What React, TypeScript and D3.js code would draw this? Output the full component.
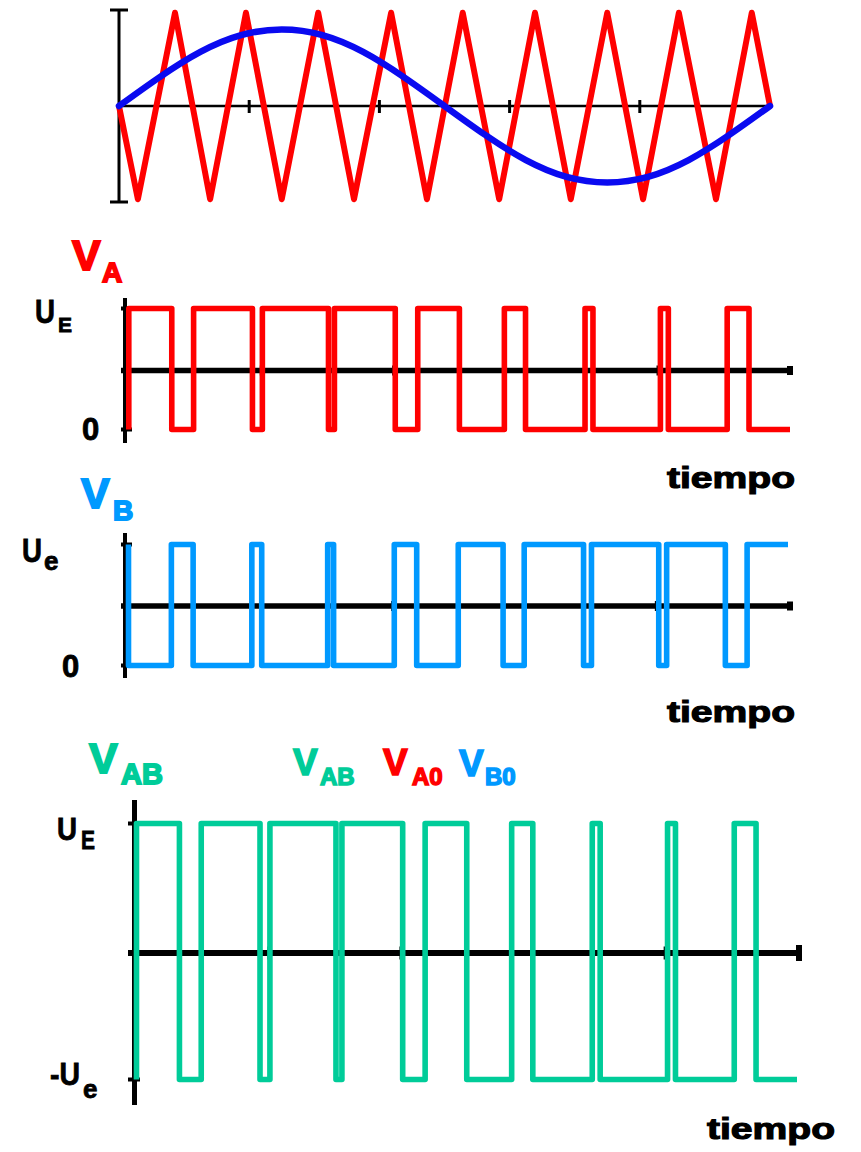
import React from "react";
import * as d3 from "d3";

// ---- Data --------------------------------------------------------------
// Time is expressed as a fraction of one period of the modulating sine.

// Triangular carrier vertices (9 carrier periods per sine period)
const carrierTimes = [0, 0.029, 0.086, 0.14, 0.195, 0.25, 0.306, 0.361, 0.418, 0.473, 0.528, 0.584, 0.639, 0.694, 0.75, 0.805, 0.86, 0.917, 0.972, 1];
const carrierValues = [0, -1, 1, -1, 1, -1, 1, -1, 1, -1, 1, -1, 1, -1, 1, -1, 1, -1, 1, 0];

// Modulating sine, sampled every 1/16 of a period
const sineTimes = [0, 0.0625, 0.125, 0.1875, 0.25, 0.3125, 0.375, 0.4375, 0.5, 0.5625, 0.625, 0.6875, 0.75, 0.8125, 0.875, 0.9375, 1];
const sineValues = [0, 0.31, 0.58, 0.76, 0.82, 0.76, 0.58, 0.31, 0, -0.31, -0.58, -0.76, -0.82, -0.76, -0.58, -0.31, 0];

// Switching instants of leg A (leg B is complementary)
const switchTimes = [0.065, 0.098, 0.187, 0.202, 0.302, 0.311, 0.403, 0.437, 0.5, 0.568, 0.6, 0.69, 0.702, 0.804, 0.816, 0.905, 0.938];
const initialStateA = 0;

// Minor time ticks
const timeTicks = [0.2, 0.4, 0.6, 0.8];

// ---- Helpers -----------------------------------------------------------
const FONT = "'Liberation Sans', Arial, Helvetica, sans-serif";
const RED = "#ff0000";
const BLUE = "#0a0af0";
const LBLUE = "#0099ff";
const GREEN = "#00cc99";

type Pt = [number, number];

function stepSeries(map: (s: number) => number): Pt[] {
  let s = initialStateA;
  const pts: Pt[] = [[0, map(s)]];
  s = 1 - s;
  pts.push([0, map(s)]);
  for (const t of switchTimes) {
    pts.push([t, map(s)]);
    s = 1 - s;
    pts.push([t, map(s)]);
  }
  pts.push([1, map(s)]);
  return pts;
}

const seriesA = stepSeries((s) => s);
const seriesB = stepSeries((s) => 1 - s);
const seriesAB = stepSeries((s) => s - (1 - s));

function Label({ x, y, size, color, text, sub, subSize, subDx, subDy, stroke = 1.2, len, subLen }: any) {
  return (
    <g fill={color} stroke={color} strokeWidth={stroke} fontFamily={FONT} fontWeight={700}>
      <text x={x} y={y} fontSize={size} textLength={len} lengthAdjust={len ? "spacingAndGlyphs" : undefined}>{text}</text>
      {sub && (
        <text x={x + subDx} y={y + subDy} fontSize={subSize} textLength={subLen} lengthAdjust={subLen ? "spacingAndGlyphs" : undefined}>{sub}</text>
      )}
    </g>
  );
}

function Tiempo({ x, y }: { x: number; y: number }) {
  return (
    <text x={x} y={y} fontFamily={FONT} fontWeight={700} fontSize={29} fill="#000" stroke="#000" strokeWidth={1.1}
      textLength={128} lengthAdjust="spacingAndGlyphs">tiempo</text>
  );
}

type PanelProps = {
  data: Pt[];
  color: string;
  xRange: [number, number];
  yDomain: [number, number];
  yRange: [number, number];
  axisX: number;
  axisW: number;
  axisTop: number;
  axisBottom: number;
  levels: number[];
  midY: number;
  midW: number;
  midEnd: number;
  tickLeft: number;
  tickRight: number;
  endTickH: number;
  minorH: number;
};

function Panel(p: PanelProps) {
  const x = d3.scaleLinear().domain([0, 1]).range(p.xRange);
  const y = d3.scaleLinear().domain(p.yDomain).range(p.yRange);
  const line = d3.line<Pt>().x((d) => x(d[0])).y((d) => y(d[1]));
  return (
    <g>
      <line x1={p.axisX} x2={p.axisX} y1={p.axisTop} y2={p.axisBottom} stroke="#000" strokeWidth={p.axisW} />
      {p.levels.map((v) => (
        <line key={v} x1={p.tickLeft} x2={p.tickRight} y1={y(v)} y2={y(v)} stroke="#000" strokeWidth={4} />
      ))}
      <line x1={p.tickLeft} x2={p.midEnd} y1={p.midY} y2={p.midY} stroke="#000" strokeWidth={p.midW} />
      <line x1={p.midEnd - 3} x2={p.midEnd - 3} y1={p.midY - p.endTickH / 2} y2={p.midY + p.endTickH / 2} stroke="#000" strokeWidth={6} />
      {timeTicks.map((t) => (
        <line key={t} x1={x(t)} x2={x(t)} y1={p.midY - p.minorH / 2} y2={p.midY + p.minorH / 2} stroke="#000" strokeWidth={2.5} />
      ))}
      <path d={line(p.data) || ""} fill="none" stroke={p.color} strokeWidth={5.6} strokeLinejoin="round" strokeLinecap="butt" />
    </g>
  );
}

export default function App() {
  const W = 861;
  const H = 1152;

  // Top panel: carrier vs. modulating wave
  const xTop = d3.scaleLinear().domain([0, 1]).range([119, 770]);
  const yTop = d3.scaleLinear().domain([-1.03, 1.03]).range([202, 10]);
  const carrierPts: Pt[] = carrierTimes.map((t, i) => [t, carrierValues[i]]);
  const sinePts: Pt[] = sineTimes.map((t, i) => [t, sineValues[i]]);
  const topLine = d3.line<Pt>().x((d) => xTop(d[0])).y((d) => yTop(d[1]));
  const sineLine = d3.line<Pt>().x((d) => xTop(d[0])).y((d) => yTop(d[1])).curve(d3.curveNatural);

  return (
    <svg width={W} height={H} viewBox={`0 0 ${W} ${H}`} style={{ position: "absolute", left: 0, top: 0, background: "#fff" }}>
      <rect width={W} height={H} fill="#fff" />

      {/* Carrier / reference */}
      <g>
        <line x1={xTop(0)} x2={xTop(0)} y1={yTop(-1.03)} y2={yTop(1.03)} stroke="#000" strokeWidth={3} />
        <line x1={110} x2={128} y1={yTop(1.03)} y2={yTop(1.03)} stroke="#000" strokeWidth={3} />
        <line x1={110} x2={128} y1={yTop(-1.03)} y2={yTop(-1.03)} stroke="#000" strokeWidth={3} />
        <line x1={xTop(0)} x2={xTop(1)} y1={yTop(0)} y2={yTop(0)} stroke="#000" strokeWidth={2.5} />
        {timeTicks.map((t) => (
          <line key={t} x1={xTop(t)} x2={xTop(t)} y1={yTop(0) - 6} y2={yTop(0) + 7} stroke="#000" strokeWidth={3} />
        ))}
        <path d={topLine(carrierPts) || ""} fill="none" stroke={RED} strokeWidth={6} strokeLinejoin="round" />
        <path d={sineLine(sinePts) || ""} fill="none" stroke={BLUE} strokeWidth={6.5} strokeLinecap="round" />
      </g>

      {/* V_A */}
      <Label x={72} y={270} size={43} color={RED} text="V" sub="A" subSize={28} subDx={30} subDy={12} stroke={1.8} />
      <Label x={35} y={323} size={33} color="#000" text="U" len={20} sub="E" subSize={21} subDx={23} subDy={9} stroke={0.8} />
      <Label x={82} y={440} size={31} color="#000" text="0" stroke={0.8} />
      <Panel data={seriesA} color={RED} xRange={[128.8, 790]} yDomain={[0, 1]} yRange={[429.5, 308.5]}
        axisX={125} axisW={4} axisTop={298} axisBottom={443} levels={[0, 1]} midY={370.5} midW={5.5} midEnd={793}
        tickLeft={121} tickRight={132} endTickH={9} minorH={10} />
      <Tiempo x={667} y={488} />

      {/* V_B */}
      <Label x={81} y={508} size={43} color={LBLUE} text="V" sub="B" subSize={28} subDx={32} subDy={12} stroke={1.8} />
      <Label x={22} y={562} size={33} color="#000" text="U" len={20} sub="e" subSize={26} subDx={22} subDy={8} stroke={0.8} />
      <Label x={62} y={677} size={31} color="#000" text="0" stroke={0.8} />
      <Panel data={seriesB} color={LBLUE} xRange={[128.5, 788]} yDomain={[0, 1]} yRange={[665.5, 544.5]}
        axisX={125} axisW={4} axisTop={533} axisBottom={678} levels={[0, 1]} midY={606} midW={5.5} midEnd={793}
        tickLeft={121} tickRight={132} endTickH={9} minorH={10} />
      <Tiempo x={667} y={722} />

      {/* V_AB and legend */}
      <Label x={89} y={773} size={43} color={GREEN} text="V" sub="AB" subSize={29} subDx={32} subDy={11} stroke={1.8} />
      <Label x={293} y={775} size={37} color={GREEN} text="V" sub="AB" subSize={24} subDx={27} subDy={10} stroke={1.5} />
      <Label x={383} y={775} size={37} color={RED} text="V" sub="A0" subSize={24} subDx={29} subDy={10} stroke={1.5} />
      <Label x={459} y={776} size={37} color={LBLUE} text="V" sub="B0" subSize={24} subDx={26} subDy={9} stroke={1.5} />
      <Label x={57} y={840} size={31} color="#000" text="U" len={20} sub="E" subSize={25} subDx={24} subDy={9} subLen={14} stroke={0.8} />
      <Label x={50} y={1085} size={32} color="#000" text="-U" len={30} sub="e" subSize={26} subDx={33} subDy={13} stroke={0.8} />
      <Panel data={seriesAB} color={GREEN} xRange={[136.5, 797]} yDomain={[-1, 1]} yRange={[1079.5, 823.5]}
        axisX={134.5} axisW={5} axisTop={800} axisBottom={1105} levels={[-1, 1]} midY={953} midW={6} midEnd={802}
        tickLeft={128} tickRight={140} endTickH={16} minorH={13} />
      <Tiempo x={707} y={1139} />
    </svg>
  );
}
